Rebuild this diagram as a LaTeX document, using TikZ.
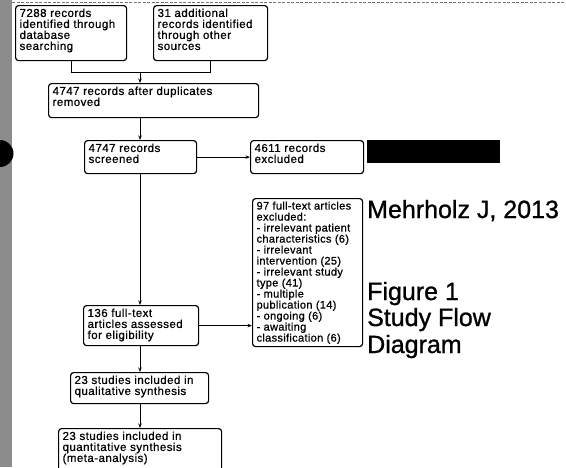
\documentclass[tikz,border=0pt]{standalone}
\usepackage{fontspec}
\setmainfont{Liberation Sans}
\newfontfamily\boxfont[LetterSpace=4,FakeBold=0.8]{Liberation Sans}
\newfontfamily\boxfontF[LetterSpace=3,FakeBold=0.8]{Liberation Sans}
\newfontfamily\bigfont[FakeBold=1]{Liberation Sans}
\usetikzlibrary{arrows.meta}
\newcommand\bxt[3]{\parbox[c][#2][t]{#1}{\raggedright #3}}
\begin{document}
\begin{tikzpicture}[x=1pt,y=-1pt,
  box/.style={draw=black, line width=1.2pt, rounded corners=3pt, anchor=north west,
    inner xsep=4pt, inner ysep=3pt, font=\boxfont\fontsize{11.5}{11}\selectfont},
  boxF/.style={box, font=\boxfontF\fontsize{11}{11}\selectfont},
  conn/.style={line width=0.9pt},
  arr/.style={conn, -{Stealth[length=4.5pt,width=3.5pt]}},
  big/.style={font=\bigfont\fontsize{25}{26}\selectfont, anchor=base west, inner sep=0pt}
]
\useasboundingbox (0,0) rectangle (566,467);
% scan artefacts
\fill[black!45] (0,0) rectangle (12,467);
\fill[black] (0,153.5) circle[radius=13.5pt];
\draw[black!55, line width=0.8pt, dash pattern=on 3pt off 1.5pt] (12,2) -- (566,2);
% boxes
\node[box] (A) at (15,5) {\bxt{103pt}{49pt}{7288 records\\identified through\\database\\searching}};
\node[box] (B) at (153,5) {\bxt{106pt}{49pt}{31 additional\\records identified\\through other\\sources}};
\node[box] (C) at (48,83) {\bxt{202pt}{28pt}{4747 records after duplicates\\removed}};
\node[box] (D) at (84,140) {\bxt{104pt}{27pt}{4747 records\\screened}};
\node[box] (E) at (250,140) {\bxt{105pt}{27pt}{4611 records\\excluded}};
\node[boxF] (F) at (252,198) {\bxt{102pt}{142pt}{97 full-text articles\\excluded:\\- irrelevant patient\\characteristics (6)\\- irrelevant\\intervention (25)\\- irrelevant study\\type (41)\\- multiple\\publication (14)\\- ongoing (6)\\- awaiting\\classification (6)}};
\node[box] (G) at (83,305) {\bxt{107pt}{34pt}{136 full-text\\articles assessed\\for eligibility}};
\node[box] (H) at (70,372) {\bxt{130pt}{25pt}{23 studies included in\\qualitative synthesis}};
\node[box] (I) at (58,428) {\bxt{155pt}{44pt}{23 studies included in\\quantitative synthesis\\(meta-analysis)}};
% redaction bar
\fill[black] (367,140) rectangle (500,163);
% connectors
\coordinate (j) at (140,72);
\draw[conn] (A.south) -- (A.south |- j) -- (B.south |- j) -- (B.south);
\draw[arr] (j) -- (j |- C.north);
\draw[arr] (C.south -| j) -- (D.north -| j);
\draw[arr] (D.east) -- (E.west |- D.east);
\draw[arr] (D.south -| j) -- (G.north -| j);
\draw[arr] (G.east) -- (G.east -| F.west);
\draw[arr] (G.south -| j) -- (H.north -| j);
\draw[arr] (H.south -| j) -- (I.north -| j);
% large captions
\node[big] (t1) at (367,218) {Mehrholz J, 2013};
\node[big] (t2) at (367,300) {Figure 1};
\node[big] (t3) at (367,326) {Study Flow};
\node[big] (t4) at (367,353) {Diagram};
\end{tikzpicture}
\end{document}
